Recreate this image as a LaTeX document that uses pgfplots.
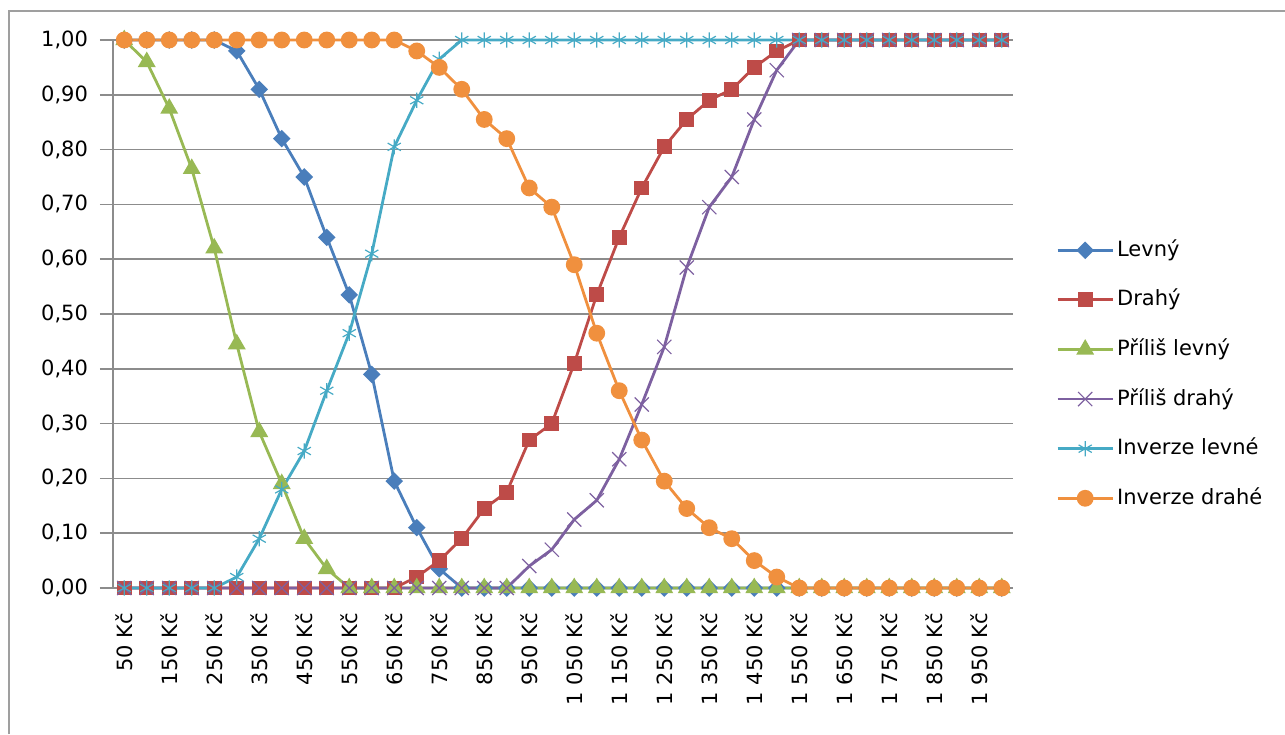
\documentclass[border=0pt]{standalone}
\usepackage{fontspec}
\setmainfont{DejaVu Sans}
\usepackage{pgfplots}
\pgfplotsset{compat=1.18}
\usepackage{pgfplotstable}

\definecolor{cLevny}{HTML}{4A7EBB}
\definecolor{cDrahy}{HTML}{BE4B48}
\definecolor{cPLevny}{HTML}{98B954}
\definecolor{cPDrahy}{HTML}{7D60A0}
\definecolor{cILevne}{HTML}{46AAC5}
\definecolor{cIDrahe}{HTML}{F0903E}
\definecolor{cGrid}{HTML}{8C8C8C}

% Van Westendorp price sensitivity: shares of respondents per price level
% i = category index (price = 50 + 50*i Kc)
\pgfplotstableread{
i  L      D      PL     PD     IL     ID
0  1      0      1      0      0      1
1  1      0      0.96   0      0      1
2  1      0      0.875  0      0      1
3  1      0      0.765  0      0      1
4  1      0      0.62   0      0      1
5  0.98   0      0.445  0      0.02   1
6  0.91   0      0.285  0      0.09   1
7  0.82   0      0.19   0      0.18   1
8  0.75   0      0.09   0      0.25   1
9  0.64   0      0.035  0      0.36   1
10 0.535  0      0      0      0.465  1
11 0.39   0      0      0      0.61   1
12 0.195  0      0      0      0.805  1
13 0.11   0.02   0      0      0.89   0.98
14 0.035  0.05   0      0      0.965  0.95
15 0      0.09   0      0      1      0.91
16 0      0.145  0      0      1      0.855
17 0      0.175  0      0      1      0.82
18 0      0.27   0      0.04   1      0.73
19 0      0.30   0      0.07   1      0.695
20 0      0.41   0      0.125  1      0.59
21 0      0.535  0      0.16   1      0.465
22 0      0.64   0      0.235  1      0.36
23 0      0.73   0      0.335  1      0.27
24 0      0.805  0      0.44   1      0.195
25 0      0.855  0      0.585  1      0.145
26 0      0.89   0      0.695  1      0.11
27 0      0.91   0      0.75   1      0.09
28 0      0.95   0      0.855  1      0.05
29 0      0.98   0      0.945  1      0.02
30 0      1      0      1      1      0
31 0      1      0      1      1      0
32 0      1      0      1      1      0
33 0      1      0      1      1      0
34 0      1      0      1      1      0
35 0      1      0      1      1      0
36 0      1      0      1      1      0
37 0      1      0      1      1      0
38 0      1      0      1      1      0
39 0      1      0      1      1      0
}\data

\begin{document}
\begin{tikzpicture}
\useasboundingbox (0,0) rectangle (642.5pt,367pt);
% outer chart frame
\draw[color=gray!75, line width=0.6pt] (4.5pt,0pt) -- (4.5pt,361.5pt) -- (642.5pt,361.5pt);

\begin{axis}[
  at={(56.5pt,73pt)}, anchor=south west,
  scale only axis, width=450pt, height=274pt,
  clip=false,
  xmin=-0.5, xmax=39.5, ymin=0, ymax=1,
  axis x line*=bottom, axis y line*=left,
  axis line style={color=cGrid, line width=0.75pt},
  tick align=outside,
  major tick length=6.5pt,
  minor tick length=3.5pt,
  tick style={color=cGrid, line width=0.75pt},
  xtick={0,2,...,38},
  xticklabels={50 Kč,150 Kč,250 Kč,350 Kč,450 Kč,550 Kč,650 Kč,750 Kč,850 Kč,950 Kč,1 050 Kč,1 150 Kč,1 250 Kč,1 350 Kč,1 450 Kč,1 550 Kč,1 650 Kč,1 750 Kč,1 850 Kč,1 950 Kč},
  xtick style={draw=none},
  minor xtick={-0.5,0.5,...,39.5},
  xticklabel style={rotate=90, anchor=east, font=\fontsize{10.5pt}{12pt}\selectfont},
  xticklabel shift=2.5pt,
  ytick={0,0.1,0.2,0.3,0.4,0.5,0.6,0.7,0.8,0.9,1},
  yticklabel style={font=\fontsize{10.5pt}{12pt}\selectfont,
    /pgf/number format/.cd, fixed, fixed zerofill, precision=2, use comma, assume math mode=true},
  yticklabel shift=2.5pt,
  ymajorgrids,
  major grid style={color=cGrid, line width=0.75pt},
  every axis plot/.append style={line width=1.4pt},
  legend style={at={(1.041,0.39)}, anchor=west, draw=none, fill=none,
    font=\fontsize{10.5pt}{12pt}\selectfont, row sep=12.8pt,
    nodes={text height=8pt, text depth=2pt, inner ysep=1pt, inner xsep=1.5pt}},
  legend cell align=left,
  legend image code/.code={\draw[mark repeat=2, mark phase=2] plot coordinates {(0pt,0pt) (13.75pt,0pt) (27.5pt,0pt)};},
]
\addplot[color=cLevny, mark=square*, mark size=2.4pt, mark options={solid, rotate=45, fill=cLevny}] table[x=i, y=L] {\data};
\addlegendentry{Levný}
\addplot[color=cDrahy, mark=square*, mark size=3pt, mark options={solid, fill=cDrahy}] table[x=i, y=D] {\data};
\addlegendentry{Drahý}
\addplot[color=cPLevny, mark=triangle*, mark size=3.8pt, mark options={solid, fill=cPLevny}] table[x=i, y=PL] {\data};
\addlegendentry{Příliš levný}
\addplot[color=cPDrahy, mark=x, mark size=5pt, mark options={solid, line width=0.6pt}] table[x=i, y=PD] {\data};
\addlegendentry{Příliš drahý}
\addplot[color=cILevne, mark=asterisk, mark size=3.8pt, mark options={solid, line width=0.6pt}] table[x=i, y=IL] {\data};
\addlegendentry{Inverze levné}
\addplot[color=cIDrahe, mark=*, mark size=3.5pt, mark options={solid, fill=cIDrahe}] table[x=i, y=ID] {\data};
\addlegendentry{Inverze drahé}
\end{axis}
\end{tikzpicture}
\end{document}
